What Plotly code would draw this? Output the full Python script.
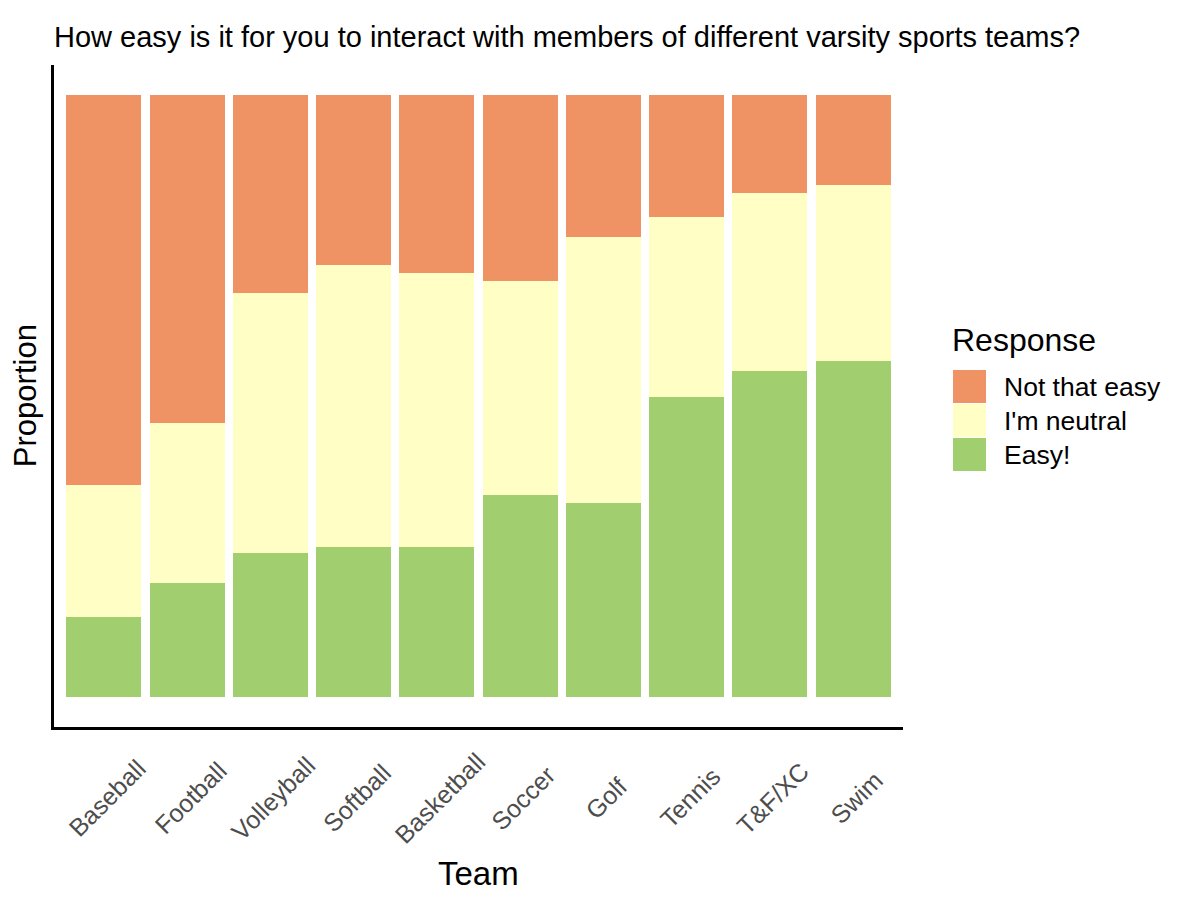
import plotly.graph_objects as go

teams = ["Baseball", "Football", "Volleyball", "Softball", "Basketball",
         "Soccer", "Golf", "Tennis", "T&F/XC", "Swim"]
easy = [0.133, 0.189, 0.239, 0.249, 0.249, 0.336, 0.322, 0.498, 0.542, 0.558]
neutral = [0.219, 0.266, 0.432, 0.469, 0.455, 0.355, 0.442, 0.299, 0.295, 0.292]
not_easy = [0.648, 0.545, 0.329, 0.282, 0.296, 0.309, 0.236, 0.203, 0.163, 0.150]
responses = ["Not that easy", "I'm neutral", "Easy!"]
colors = {"Not that easy": "#EF9264", "I'm neutral": "#FFFFC5", "Easy!": "#A1CE6E"}

FONT = "Liberation Sans, Arial, sans-serif"
W, H = 1188, 896  # page body has an 8px margin

fig = go.Figure()
for name, vals in [("Easy!", easy), ("I'm neutral", neutral), ("Not that easy", not_easy)]:
    fig.add_trace(go.Bar(x=teams, y=vals, name=name, marker_color=colors[name],
                         marker_line_width=0, showlegend=False))

# rotated tick labels centred under each bar (ggplot style)
for t in teams:
    fig.add_annotation(x=t, y=-0.107, xref="x", yref="paper", text=t, showarrow=False,
                       textangle=-45, xanchor="center", yanchor="middle", xshift=3,
                       font=dict(family=FONT, size=25, color="#4D4D4D"))

# axis titles
fig.add_annotation(x=0.5, y=-0.222, xref="paper", yref="paper", text="Team", showarrow=False,
                   xanchor="center", yanchor="middle", font=dict(family=FONT, size=33, color="black"))
fig.add_annotation(x=-0.034, y=0.5, xref="paper", yref="paper", text="Proportion", showarrow=False,
                   textangle=-90, xanchor="center", yanchor="middle", borderpad=0,
                   font=dict(family=FONT, size=31, color="black"))

# legend drawn by hand (positions in screen pixels -> paper)
def px_x(px):
    return (px - 54) / 849

def px_y(py):
    return (727 - py) / 662

fig.add_annotation(x=px_x(950), y=px_y(340), xref="paper", yref="paper", text="Response",
                   showarrow=False, xanchor="left", yanchor="middle",
                   font=dict(family=FONT, size=32, color="black"))
for i, r in enumerate(responses):
    top = 370 + i * 34
    fig.add_shape(type="rect", xref="paper", yref="paper", x0=px_x(953), x1=px_x(986),
                  y0=px_y(top), y1=px_y(top + 33), fillcolor=colors[r], line_width=0)
    fig.add_annotation(x=px_x(1002), y=px_y(top + 17), xref="paper", yref="paper", text=r,
                       showarrow=False, xanchor="left", yanchor="middle",
                       font=dict(family=FONT, size=26.5, color="black"))

fig.update_layout(
    barmode="stack",
    bargap=0.1,
    width=W, height=H,
    margin=dict(l=46, r=293, t=57, b=177),
    paper_bgcolor="white", plot_bgcolor="white",
    title=dict(text="How easy is it for you to interact with members of different varsity sports teams?",
               x=(54 - 8) / W, xanchor="left", y=1 - (37 - 8) / H, yanchor="middle",
               font=dict(family=FONT, size=29, color="black")),
    font=dict(family=FONT),
)
fig.update_xaxes(range=[-0.6, 9.6], showticklabels=False, ticks="", showgrid=False,
                 showline=True, linecolor="black", linewidth=3, zeroline=False)
fig.update_yaxes(range=[-0.05, 1.05], showticklabels=False, ticks="", showgrid=False,
                 showline=True, linecolor="black", linewidth=3, zeroline=False)

fig.write_html("out.html")
